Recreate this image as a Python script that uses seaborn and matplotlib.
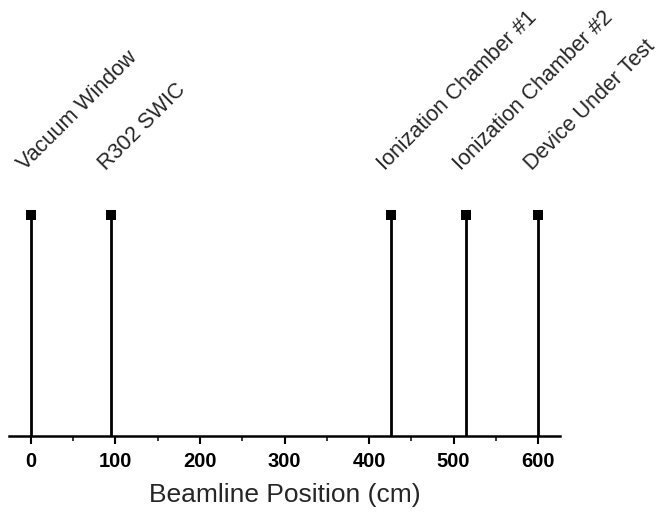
import matplotlib
matplotlib.use("Agg")
import matplotlib.pyplot as plt
from matplotlib.ticker import MultipleLocator
import seaborn as sns
import pandas as pd

components = ["Vacuum Window", "R302 SWIC", "Ionization Chamber #1",
              "Ionization Chamber #2", "Device Under Test"]
positions = [0, 95, 426, 515, 600]
heights = [1, 1, 1, 1, 1]
x_ticks = [0, 100, 200, 300, 400, 500, 600]

sns.set_style("white")
plt.rcParams['font.family'] = ['Liberation Sans', 'DejaVu Sans']

df = pd.DataFrame({"component": components, "position": positions, "height": heights})

fig = plt.figure(figsize=(6.59, 5.16), dpi=100)
ax = fig.add_axes([9/659, 1-436/516, (560-9)/659, (436-171)/516])

ax.vlines(df["position"], 0, df["height"], color="black", linewidth=2.0)
sns.scatterplot(data=df, x="position", y="height", marker="s", color="black",
                s=45, edgecolor="black", linewidth=0, ax=ax, zorder=3)

for _, r in df.iterrows():
    ax.annotate(r["component"], xy=(r["position"], r["height"]), xytext=(-4, 32),
                textcoords="offset points", rotation=45, rotation_mode="anchor",
                ha="left", va="baseline", fontsize=15.5, annotation_clip=False)

ax.set_xlim(-26, 626)
ax.set_ylim(0, 1.2)
ax.set_xticks(x_ticks)
ax.set_xticklabels([str(t) for t in x_ticks], fontweight="bold", fontsize=14.5)
ax.xaxis.set_minor_locator(MultipleLocator(50))
ax.set_yticks([])
ax.set_ylabel("")
ax.set_xlabel("Beamline Position (cm)", fontsize=19, labelpad=9)
for s in ["top", "left", "right"]:
    ax.spines[s].set_visible(False)
ax.spines["bottom"].set_linewidth(1.8)
ax.spines["bottom"].set_color("black")
ax.tick_params(axis="x", which="major", direction="out", length=5.5, width=1.5,
               bottom=True, pad=6, colors="black")
ax.tick_params(axis="x", which="minor", direction="out", length=3.5, width=1.3, bottom=True)

fig.savefig("out.png", dpi=100)
